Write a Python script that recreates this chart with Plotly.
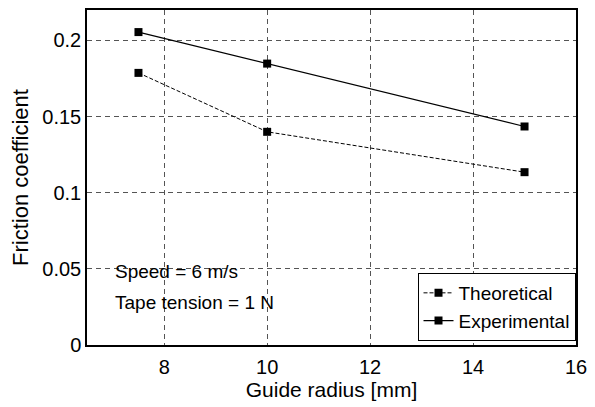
import plotly.graph_objects as go

radius = [7.5, 10, 15]
theoretical = [0.1787, 0.140, 0.1135]
experimental = [0.2055, 0.1848, 0.1435]
x_ticks = [8, 10, 12, 14, 16]
y_ticks = [0, 0.05, 0.1, 0.15, 0.2]
y_tick_text = ["0", "0.05", "0.1", "0.15", "0.2"]

FONT = "Liberation Sans, Arial, Helvetica, sans-serif"

fig = go.Figure()
fig.add_trace(go.Scatter(
    x=radius, y=theoretical, mode="lines+markers", name="Theoretical",
    line=dict(color="black", width=1, dash="4px,2px"),
    marker=dict(symbol="square", size=8, color="black"),
))
fig.add_trace(go.Scatter(
    x=radius, y=experimental, mode="lines+markers", name="Experimental",
    line=dict(color="black", width=1.2),
    marker=dict(symbol="square", size=8, color="black"),
))

axis_common = dict(
    showline=True, linecolor="black", linewidth=1.5, mirror=True,
    showgrid=True, gridcolor="#555555", gridwidth=1, griddash="5px,4px",
    zeroline=False, ticks="", tickfont=dict(size=20, color="black", family=FONT),
)

fig.update_xaxes(
    range=[6.5, 16], tickvals=x_ticks, ticklabelstandoff=3,
    title=dict(text="Guide radius [mm]", font=dict(size=21, color="black", family=FONT), standoff=2),
    **axis_common,
)
fig.update_yaxes(
    range=[0, 0.22], tickvals=y_ticks, ticktext=y_tick_text,
    title=dict(text="Friction coefficient", font=dict(size=22, color="black", family=FONT), standoff=8),
    **axis_common,
)

fig.add_annotation(x=7.0, y=0.0486, xref="x", yref="y", text="Speed = 6 m/s",
                   showarrow=False, xanchor="left", yanchor="middle",
                   font=dict(size=19, color="black", family=FONT))
fig.add_annotation(x=7.0, y=0.0277, xref="x", yref="y", text="Tape tension = 1 N",
                   showarrow=False, xanchor="left", yanchor="middle",
                   font=dict(size=19, color="black", family=FONT))

fig.update_layout(
    width=595, height=407,
    margin=dict(l=87, r=12, t=8, b=62),
    paper_bgcolor="white", plot_bgcolor="white",
    font=dict(family=FONT, color="black"),
    legend=dict(
        x=0.999, y=0.012, xanchor="right", yanchor="bottom",
        bordercolor="black", borderwidth=1, bgcolor="white",
        font=dict(size=19, color="black", family=FONT),
        tracegroupgap=0, itemwidth=30,
    ),
)

fig.write_html("out.html")
